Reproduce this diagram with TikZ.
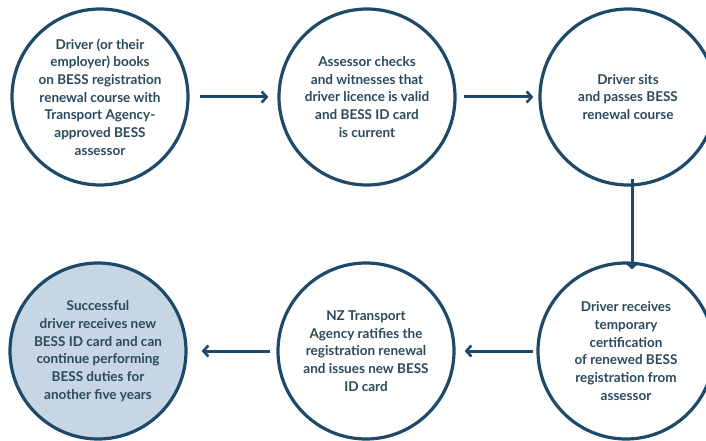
\documentclass[tikz,border=0pt]{standalone}
\usepackage{fontspec}
\setmainfont{Lato}
\usetikzlibrary{arrows.meta}
\definecolor{navy}{HTML}{1D4A6A}
\definecolor{txt}{HTML}{2B485C}
\definecolor{pale}{HTML}{C6D6E5}
\tikzset{
  stage/.style={circle, draw=navy, line width=3.2pt, minimum size=176pt, inner sep=0pt,
    align=center, text=txt, font=\bfseries\fontsize{13.5}{17.7}\selectfont},
  flow/.style={draw=navy, line width=3pt, -{Straight Barb[length=5pt,width=11pt,line width=2.6pt]}}
}
\begin{document}
\begin{tikzpicture}[x=1pt,y=-1pt]
\useasboundingbox (0,0) rectangle (706,441);
\node[stage] (c1) at (100,97) {Driver (or their\\employer) books\\on BESS registration\\renewal course with\\Transport Agency-\\approved BESS\\assessor};
\node[stage] (c2) at (367,97) {Assessor checks\\and witnesses that\\driver licence is valid\\and BESS ID card\\is current};
\node[stage] (c3) at (628,97) {Driver sits\\and passes BESS\\renewal course};
\node[stage, fill=pale] (c4) at (98,351) {Successful\\driver receives new\\BESS ID card and can\\continue performing\\BESS duties for\\another five years};
\node[stage] (c5) at (366,351) {NZ Transport\\Agency ratifies the\\registration renewal\\and issues new BESS\\ID card};
\node[stage] (c6) at (626,351) {Driver receives\\temporary\\certification\\of renewed BESS\\registration from\\assessor};
\draw[flow] ([xshift=10pt]c1.east) -- ([xshift=-9pt]c2.west);
\draw[flow] ([xshift=7pt]c2.east) -- ([xshift=-5pt]c3.west);
\draw[flow] ([xshift=4pt,yshift=8pt]c3.south) -- ([xshift=6pt,yshift=-8pt]c6.north);
\draw[flow] ([xshift=-3pt]c6.west) -- ([xshift=9pt]c5.east);
\draw[flow] ([xshift=-6pt]c5.west) -- ([xshift=14pt]c4.east);
\end{tikzpicture}
\end{document}
